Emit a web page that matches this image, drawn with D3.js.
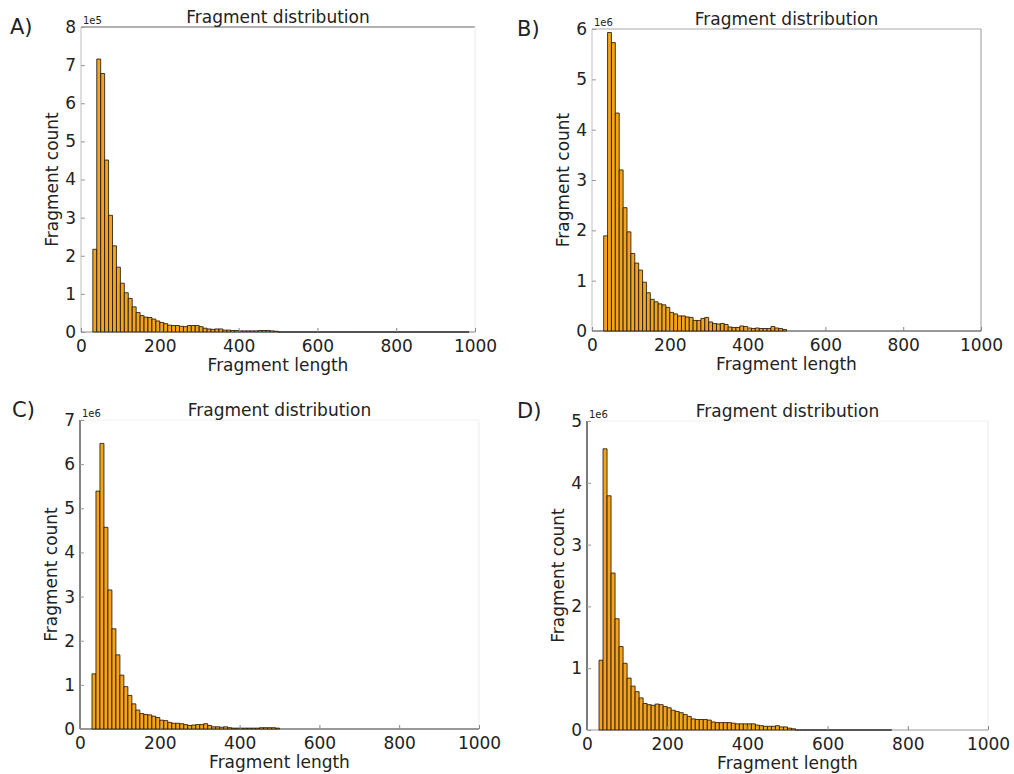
<!DOCTYPE html>
<html>
<head>
<meta charset="utf-8">
<script src="https://cdn.jsdelivr.net/npm/d3@7"></script>
<style>
  body { margin: 0; background: #fff; }
  text { font-family: "DejaVu Sans", sans-serif; fill: #222; }
</style>
</head>
<body>
<div id="chart"></div>
<script>
// histogram bins: first bin starts at 30, each bin is 10 wide
const binStart = 30, binWidth = 10;

// counts per bin, in units of the axis multiplier (1e5 / 1e6)
const countsA = [2.17, 7.16, 6.78, 4.51, 3.06, 2.26, 1.70, 1.28, 1.03, 0.88, 0.66, 0.51, 0.43, 0.39, 0.38, 0.34,
  0.29, 0.25, 0.22, 0.18, 0.17, 0.17, 0.15, 0.14, 0.17, 0.17, 0.17, 0.14, 0.10, 0.08, 0.07, 0.08,
  0.08, 0.05, 0.05, 0.04, 0.04, 0.03, 0.03, 0.03, 0.03, 0.03, 0.04, 0.04, 0.04, 0.03, 0.02];
const countsB = [1.89, 5.93, 5.73, 4.33, 3.20, 2.45, 1.97, 1.54, 1.35, 1.21, 0.97, 0.76, 0.63, 0.58, 0.54, 0.52,
  0.47, 0.37, 0.34, 0.30, 0.30, 0.28, 0.27, 0.21, 0.21, 0.25, 0.27, 0.18, 0.15, 0.14, 0.15, 0.13,
  0.08, 0.07, 0.07, 0.10, 0.09, 0.06, 0.05, 0.06, 0.05, 0.05, 0.05, 0.09, 0.06, 0.05, 0.03];
const countsC = [1.25, 5.39, 6.47, 4.57, 3.15, 2.27, 1.68, 1.22, 0.96, 0.76, 0.57, 0.43, 0.35, 0.33, 0.32, 0.29,
  0.26, 0.20, 0.19, 0.15, 0.13, 0.13, 0.12, 0.10, 0.08, 0.09, 0.10, 0.10, 0.12, 0.08, 0.05, 0.05,
  0.04, 0.05, 0.03, 0.02, 0.02, 0.02, 0.02, 0.02, 0.02, 0.02, 0.03, 0.03, 0.03, 0.03, 0.02];
const countsD = [1.13, 4.55, 3.79, 2.54, 1.80, 1.35, 1.08, 0.84, 0.71, 0.62, 0.52, 0.43, 0.41, 0.40, 0.42, 0.41,
  0.38, 0.36, 0.32, 0.30, 0.28, 0.25, 0.22, 0.18, 0.17, 0.17, 0.17, 0.16, 0.13, 0.12, 0.12, 0.12,
  0.12, 0.11, 0.10, 0.10, 0.10, 0.10, 0.10, 0.08, 0.07, 0.06, 0.06, 0.06, 0.07, 0.05, 0.05, 0.03, 0.02];

// longest fragment in each sample (empty bins run up to here)
const maxLengths = [985, 500, 500, 760];

const yMaxes = [8, 6, 7, 5];
const multipliers = ["1e5", "1e6", "1e6", "1e6"];
const panelLetters = ["A)", "B)", "C)", "D)"];
const xTicks = [0, 200, 400, 600, 800, 1000];
const titleText = "Fragment distribution";
const xLabel = "Fragment length";
const yLabel = "Fragment count";

const allCounts = [countsA, countsB, countsC, countsD];

// layout of the four axes (pixels)
const panels = [
  { left: 81,  right: 475, top: 27,  bottom: 332, letter: [10, 34],  spine: { top: "#666", left: "#c8c8c8", right: "#eee", bottom: "#888" } },
  { left: 592, right: 981, top: 29,  bottom: 331, letter: [517, 36], spine: { top: "#aaa", left: "#ccc", right: "#aaa", bottom: "#333" } },
  { left: 80,  right: 479, top: 420, bottom: 729, letter: [12, 417], spine: { top: "#f0f0f0", left: "#333", right: "#eee", bottom: "#333" } },
  { left: 587, right: 988, top: 421, bottom: 730, letter: [517, 418], spine: { top: "#f0f0f0", left: "#222", right: "#eee", bottom: "#999" } }
];

const W = 1014, H = 774;
const barFill = "#f4a31b";

const svg = d3.select("#chart").append("svg")
  .attr("width", W)
  .attr("height", H);

panels.forEach((p, k) => {
  const counts = allCounts[k];
  const x = d3.scaleLinear().domain([0, 1000]).range([p.left, p.right]);
  const y = d3.scaleLinear().domain([0, yMaxes[k]]).range([p.bottom, p.top]);

  // bins with counts, then empty bins up to the longest fragment
  const bins = counts.map((v, i) => ({ x0: binStart + i * binWidth, x1: binStart + (i + 1) * binWidth, v: v }));
  let e = binStart + counts.length * binWidth;
  while (e < maxLengths[k]) {
    bins.push({ x0: e, x1: Math.min(e + binWidth, maxLengths[k]), v: 0 });
    e += binWidth;
  }

  const g = svg.append("g");

  // spines
  const sp = [
    ["top", p.left, p.top, p.right, p.top],
    ["right", p.right, p.top, p.right, p.bottom],
    ["left", p.left, p.top, p.left, p.bottom],
    ["bottom", p.left, p.bottom, p.right, p.bottom]
  ];
  g.selectAll("line.spine")
    .data(sp)
    .join("line")
    .attr("class", "spine")
    .attr("x1", d => d[1]).attr("y1", d => d[2])
    .attr("x2", d => d[3]).attr("y2", d => d[4])
    .attr("stroke", d => p.spine[d[0]])
    .attr("stroke-width", 1.2);

  // bars drawn as closed paths so the empty bins still show their edge
  g.selectAll("path.bar")
    .data(bins)
    .join("path")
    .attr("class", "bar")
    .attr("d", d => {
      const pth = d3.path();
      pth.moveTo(x(d.x0), y(0));
      pth.lineTo(x(d.x0), y(d.v));
      pth.lineTo(x(d.x1), y(d.v));
      pth.lineTo(x(d.x1), y(0));
      pth.closePath();
      return pth.toString();
    })
    .attr("fill", barFill)
    .attr("stroke", "#111")
    .attr("stroke-width", 0.8);

  // x axis: inward ticks, labels below
  const xAxis = d3.axisBottom(x).tickValues(xTicks).tickFormat(d3.format("d"))
    .tickSizeInner(-4).tickSizeOuter(0).tickPadding(8);
  const gx = g.append("g").attr("transform", `translate(0,${p.bottom})`).call(xAxis);
  gx.select(".domain").remove();
  gx.selectAll(".tick line").attr("stroke", "#888");
  gx.selectAll(".tick text")
    .attr("font-size", 17)
    .attr("font-family", "DejaVu Sans")
    .attr("fill", "#222");

  // y axis
  const yAxis = d3.axisLeft(y).ticks(yMaxes[k]).tickFormat(d3.format("d"))
    .tickSizeInner(-4).tickSizeOuter(0).tickPadding(5);
  const gy = g.append("g").attr("transform", `translate(${p.left},0)`).call(yAxis);
  gy.select(".domain").remove();
  gy.selectAll(".tick line").attr("stroke", "#999");
  gy.selectAll(".tick text")
    .attr("font-size", 17)
    .attr("font-family", "DejaVu Sans")
    .attr("fill", "#222");

  // multiplier at the top of the y axis
  g.append("text")
    .attr("x", p.left + 2)
    .attr("y", p.top - 3)
    .attr("font-size", 10)
    .text(multipliers[k]);

  // title
  g.append("text")
    .attr("x", (p.left + p.right) / 2)
    .attr("y", p.top - 4)
    .attr("text-anchor", "middle")
    .attr("font-size", 17)
    .text(titleText);

  // axis labels
  g.append("text")
    .attr("x", (p.left + p.right) / 2)
    .attr("y", p.bottom + 39)
    .attr("text-anchor", "middle")
    .attr("font-size", 17)
    .text(xLabel);

  g.append("text")
    .attr("transform", `translate(${p.left - 23},${(p.top + p.bottom) / 2}) rotate(-90)`)
    .attr("text-anchor", "middle")
    .attr("font-size", 17)
    .text(yLabel);

  // panel letter
  g.append("text")
    .attr("x", p.letter[0])
    .attr("y", p.letter[1])
    .attr("font-size", 21)
    .text(panelLetters[k]);
});
</script>
</body>
</html>
